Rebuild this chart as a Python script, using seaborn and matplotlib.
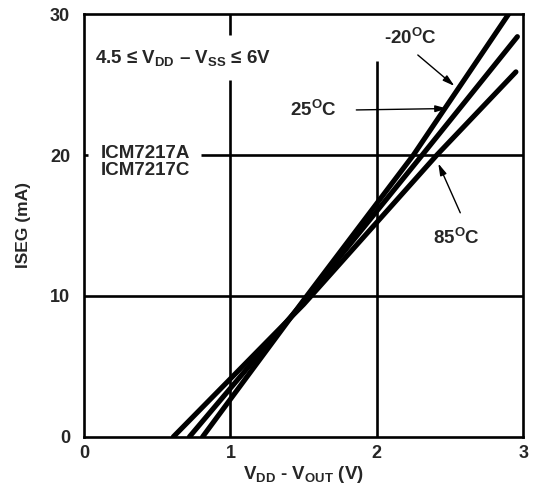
import pandas as pd
import matplotlib
matplotlib.use("Agg")
import matplotlib.pyplot as plt
import seaborn as sns

# Дані
temps = ["-20°C", "25°C", "85°C"]
v_m20 = [0.81, 1.5, 2.25, 2.90]
i_m20 = [0.0, 9.7, 20.0, 30.0]
v_25 = [0.72, 1.5, 2.31, 2.96]
i_25 = [0.0, 9.6, 20.0, 28.4]
v_85 = [0.61, 1.5, 2.41, 2.95]
i_85 = [0.0, 9.4, 20.0, 25.9]
x_ticks = [0, 1, 2, 3]
y_ticks = [0, 10, 20, 30]

frames = []
for name, v, i in zip(temps, [v_m20, v_25, v_85], [i_m20, i_25, i_85]):
    frames.append(pd.DataFrame({"V": v, "I": i, "T": name}))
data = pd.concat(frames, ignore_index=True)

sns.set_style("white")
plt.rcParams["font.family"] = ["Liberation Sans", "DejaVu Sans"]
plt.rcParams["font.weight"] = "bold"
plt.rcParams["mathtext.fontset"] = "custom"
plt.rcParams["mathtext.rm"] = "Liberation Sans:bold"
plt.rcParams["mathtext.it"] = "Liberation Sans:bold"
plt.rcParams["mathtext.bf"] = "Liberation Sans:bold"

fig = plt.figure(figsize=(5.35, 4.87), dpi=100)
ax = fig.add_axes([0.157, 0.103, 0.821, 0.868])

# Сітка (з розривами під підписами)
gl = dict(color="black", lw=1.9, zorder=1)
ax.hlines(10, 0, 3, **gl)
ax.hlines(20, 0.80, 3, **gl)
ax.hlines(20, 0, 0.03, **gl)
ax.vlines(1, 0, 25.3, **gl)
ax.vlines(1, 28.5, 30, **gl)
ax.vlines(2, 0, 26.7, **gl)

sns.lineplot(data=data, x="V", y="I", hue="T", palette=["black"] * 3,
             linewidth=3.7, legend=False, sort=False, estimator=None, ax=ax, zorder=3)

ax.set_xlim(0, 3)
ax.set_ylim(0, 30)
ax.set_xticks(x_ticks)
ax.set_yticks(y_ticks)
ax.set_xticklabels([str(t) for t in x_ticks], fontsize=13, fontweight="bold")
ax.set_yticklabels([str(t) for t in y_ticks], fontsize=13, fontweight="bold")
ax.tick_params(axis="x", length=0, pad=6)
ax.tick_params(axis="y", length=0, pad=10)
for s in ax.spines.values():
    s.set_linewidth(1.9)
    s.set_color("black")

ax.set_xlabel(r"V$_{\rm DD}$ - V$_{\rm OUT}$ (V)", fontsize=13.5, fontweight="bold", labelpad=1)
ax.set_ylabel("ISEG (mA)", fontsize=12.5, fontweight="bold", labelpad=14)

ax.text(0.075, 26.9, r"4.5 ≤ V$_{\rm DD}$ – V$_{\rm SS}$ ≤ 6V", fontsize=13.5,
        fontweight="bold", va="center", ha="left")
ax.text(0.42, 19.5, "ICM7217A\nICM7217C", fontsize=13.5, fontweight="bold",
        va="center", ha="center", linespacing=1.0)

ax.text(1.57, 23.2, r"25$^{\rm O}$C", fontsize=13.5, fontweight="bold", va="center", ha="center")
ax.text(2.23, 28.3, r"-20$^{\rm O}$C", fontsize=13.5, fontweight="bold", va="center", ha="center")
ax.text(2.54, 14.1, r"85$^{\rm O}$C", fontsize=13.5, fontweight="bold", va="center", ha="center")

arr = dict(arrowstyle="-|>,head_length=0.7,head_width=0.2", color="black", lw=1.0,
           shrinkA=0, shrinkB=0)
ax.annotate("", xy=(2.48, 23.3), xytext=(1.86, 23.2), arrowprops=arr)
ax.annotate("", xy=(2.53, 24.9), xytext=(2.28, 27.1), arrowprops=arr)
ax.annotate("", xy=(2.42, 19.4), xytext=(2.57, 15.9), arrowprops=arr)

fig.savefig("out.png", dpi=100)
